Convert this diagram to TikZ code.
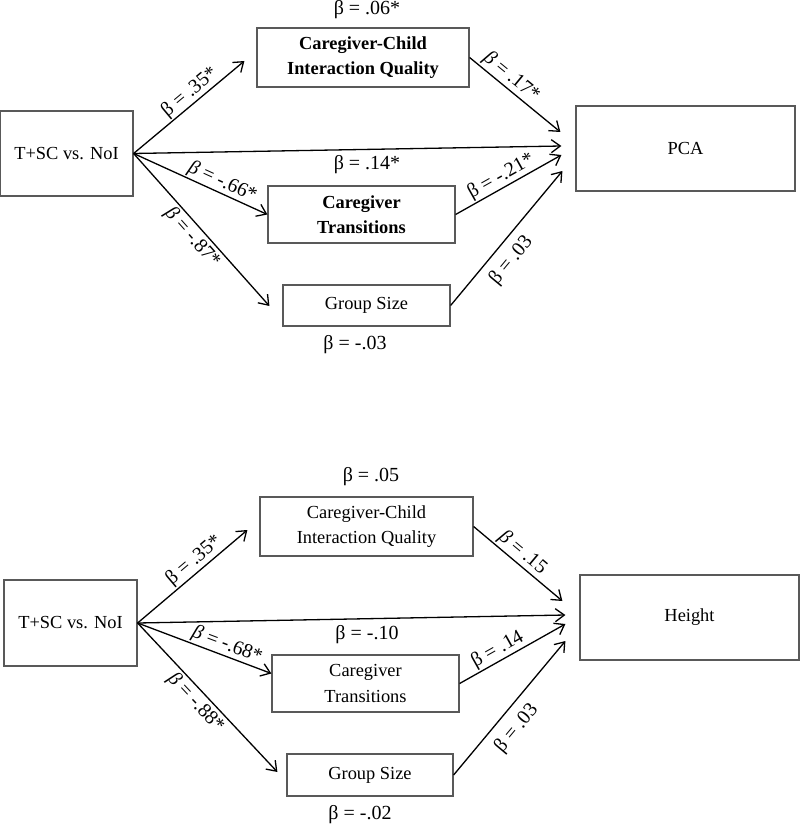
\documentclass[tikz,border=0pt]{standalone}
\usepackage{fontspec}
\setmainfont{Liberation Serif}
\usetikzlibrary{arrows.meta,calc}
\begin{document}
\begin{tikzpicture}[x=1pt,y=-1pt,
  box/.style={draw=black!65,line width=1.2pt,inner sep=0pt,align=center,font=\fontsize{18.4}{25.5}\selectfont},
  lab/.style={font=\fontsize{20}{22}\selectfont,inner sep=1pt},
  arr/.style={draw=black,line width=1.3pt,-{Straight Barb[length=9pt,width=13pt,line width=1.3pt]}}]
\useasboundingbox (0,0) rectangle (800,826);
% ---------- top model ----------
\node[box,minimum width=133pt,minimum height=85pt] (tsc) at (66.5,153.5) {T+SC vs. NoI};
\node[box,minimum width=212pt,minimum height=59pt] (cciq) at (363,57.5) {\bfseries Caregiver-Child\\\bfseries Interaction Quality};
\node[box,minimum width=187pt,minimum height=57pt] (ct) at (361.5,214.5) {\bfseries Caregiver\\\bfseries Transitions};
\node[box,minimum width=167pt,minimum height=41pt] (gs) at (366.5,305.5) {Group Size};
\node[box,minimum width=219pt,minimum height=85pt] (pca) at (685.5,148.5) {PCA};
\node[lab] (l06) at (367,10) {β = .06*};
\node[lab] (l14) at (367,165) {β = .14*};
\node[lab] (l03a) at (355,345) {β = -.03};
\draw[arr] (tsc.east) -- ($(cciq.west)+(-12,3.5)$) node[lab,pos=0.57,sloped,above] {β = .35*};
\draw[arr] (tsc.east) -- (ct.west) node[lab,pos=0.63,sloped,above] {\textit{β} = -.66*};
\draw[arr] (tsc.east) -- ($(gs.west)+(-13,0.5)$) node[lab,pos=0.5,sloped,below,inner sep=2.5pt] {\textit{β} = -.87*};
\draw[arr] (tsc.east) -- ($(pca.west)+(-14,-2.5)$);
\draw[arr] (cciq.east) -- ($(pca.west)+(-15,-16.5)$) node[lab,pos=0.38,sloped,above,inner sep=1.5pt] {\textit{β} = .17*};
\draw[arr] (ct.east) -- ($(pca.west)+(-14,6.5)$) node[lab,pos=0.48,sloped,above] {β = -.21*};
\draw[arr] (gs.east) -- ($(pca.west)+(-13,22.5)$) node[lab,pos=0.42,sloped,below,inner sep=8pt] {β = .03};
% ---------- bottom model ----------
\node[box,minimum width=133pt,minimum height=86pt] (tsc2) at (70.5,623) {T+SC vs. NoI};
\node[box,minimum width=213pt,minimum height=59pt] (cciq2) at (366.5,526.5) {Caregiver-Child\\Interaction Quality};
\node[box,minimum width=187pt,minimum height=57pt] (ct2) at (365.5,683.5) {Caregiver\\Transitions};
\node[box,minimum width=166pt,minimum height=42pt] (gs2) at (370,775) {Group Size};
\node[box,minimum width=219pt,minimum height=85pt] (hgt) at (689.5,617.5) {Height};
\node[lab] (l05) at (371,477) {β = .05};
\node[lab] (l10) at (367,635) {β = -.10};
\node[lab] (l02) at (360,815) {β = -.02};
\draw[arr] (tsc2.east) -- ($(cciq2.west)+(-12,3.5)$) node[lab,pos=0.58,sloped,above,inner sep=1.5pt] {β = .35*};
\draw[arr] (tsc2.east) -- ($(ct2.west)+(0,-10)$) node[lab,pos=0.64,sloped,above] {\textit{β} = -.68*};
\draw[arr] (tsc2.east) -- ($(gs2.west)+(-9,-3)$) node[lab,pos=0.48,sloped,below,inner sep=2.5pt] {\textit{β} = -.88*};
\draw[arr] (tsc2.east) -- ($(hgt.west)+(-14,-2.5)$);
\draw[arr] (cciq2.east) -- ($(hgt.west)+(-17,-16.5)$) node[lab,pos=0.47,sloped,above,inner sep=1.5pt] {\textit{β} = .15};
\draw[arr] (ct2.east) -- ($(hgt.west)+(-14,6.5)$) node[lab,pos=0.41,sloped,above] {β = .14};
\draw[arr] (gs2.east) -- ($(hgt.west)+(-14,23.5)$) node[lab,pos=0.435,sloped,below,inner sep=9pt] {β = .03};
\end{tikzpicture}
\end{document}
